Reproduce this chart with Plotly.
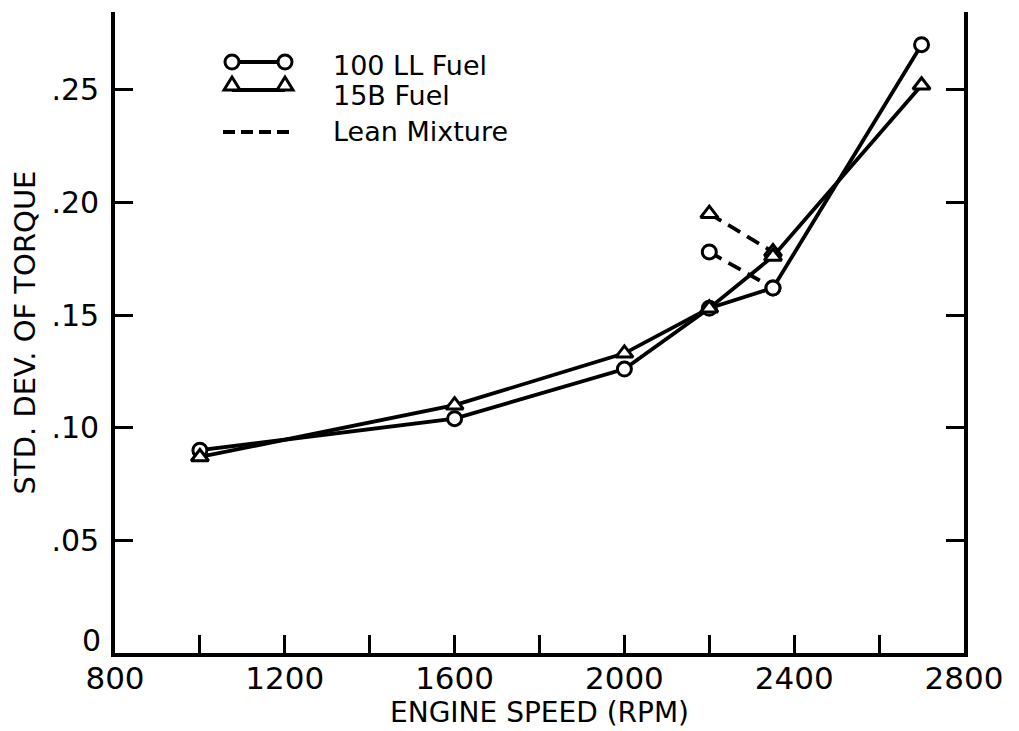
import plotly.graph_objects as go

# ---- data ----
speed = [1000, 1600, 2000, 2200, 2350, 2700]
ll100 = [0.090, 0.104, 0.126, 0.153, 0.162, 0.270]
b15 = [0.087, 0.110, 0.133, 0.153, 0.176, 0.252]
lean_speed = [2200, 2350]
lean_ll100 = [0.178, 0.162]
lean_b15 = [0.195, 0.178]

x_ticks = [800, 1000, 1200, 1400, 1600, 1800, 2000, 2200, 2400, 2600, 2800]
x_labels = ["800", "", "1200", "", "1600", "", "2000", "", "2400", "", "2800"]
y_ticks = [0.05, 0.10, 0.15, 0.20, 0.25]
y_labels = [".05", ".10", ".15", ".20", ".25"]
y_zero_label = "0"

legend_names = ["100 LL Fuel", "15B Fuel", "Lean Mixture"]

W, H = 1019, 731
L, R, T, B = 115, 55, 12, 78
PW, PH = W - L - R, H - T - B
FONT = "DejaVu Sans"
LW = 3.8

fig = go.Figure()

circle = dict(symbol="circle", size=14, color="white", line=dict(color="black", width=3))
tri = dict(symbol="triangle-up", size=15, color="white", line=dict(color="black", width=3))

fig.add_trace(go.Scatter(x=lean_speed, y=lean_ll100, mode="lines+markers",
                         line=dict(color="black", width=LW, dash="14px,8px"),
                         marker=circle, showlegend=False))
fig.add_trace(go.Scatter(x=lean_speed, y=lean_b15, mode="lines+markers",
                         line=dict(color="black", width=LW, dash="14px,8px"),
                         marker=tri, showlegend=False))
fig.add_trace(go.Scatter(x=speed, y=ll100, mode="lines+markers",
                         line=dict(color="black", width=LW),
                         marker=circle, showlegend=False))
fig.add_trace(go.Scatter(x=speed, y=b15, mode="lines+markers",
                         line=dict(color="black", width=LW),
                         marker=tri, showlegend=False))

# ---- custom legend (layout decoration, pixel positions) ----
def px(xp):
    return (xp - L) / PW

def py(yp):
    return (T + PH - yp) / PH

shapes = []
annotations = []
glyph_rows = [62, 90, 132]
text_rows = [65, 95, 131]
gx0, gx1 = 232, 285
for i, name in enumerate(legend_names):
    yy = glyph_rows[i]
    if i == 0:
        shapes.append(dict(type="line", xref="paper", yref="paper",
                           x0=px(gx0), x1=px(gx1), y0=py(yy), y1=py(yy),
                           line=dict(color="black", width=LW)))
        for gx in (gx0, gx1):
            shapes.append(dict(type="circle", xref="paper", yref="paper",
                               xsizemode="pixel", ysizemode="pixel",
                               xanchor=px(gx), yanchor=py(yy),
                               x0=-7, x1=7, y0=-7, y1=7,
                               fillcolor="white", line=dict(color="black", width=3)))
    elif i == 1:
        shapes.append(dict(type="line", xref="paper", yref="paper",
                           x0=px(gx0), x1=px(gx1), y0=py(yy), y1=py(yy),
                           line=dict(color="black", width=LW)))
        for gx in (gx0, gx1):
            shapes.append(dict(type="path", xref="paper", yref="paper",
                               xsizemode="pixel", ysizemode="pixel",
                               xanchor=px(gx), yanchor=py(yy),
                               path="M -8 0 L 8 0 L 0 13 Z",
                               fillcolor="white", line=dict(color="black", width=3)))
    else:
        shapes.append(dict(type="line", xref="paper", yref="paper",
                           x0=px(223), x1=px(289), y0=py(yy), y1=py(yy),
                           line=dict(color="black", width=LW, dash="12px,6px")))
    annotations.append(dict(text=name, xref="paper", yref="paper",
                            x=px(331), y=py(text_rows[i]), xanchor="left", yanchor="middle",
                            showarrow=False, font=dict(family=FONT, size=27, color="black")))

# zero label on the y axis (sits slightly above the corner, as in the original)
annotations.append(dict(text=y_zero_label, xref="paper", yref="y", x=0, y=0,
                        xanchor="right", yanchor="middle", xshift=-12, yshift=13,
                        showarrow=False, font=dict(family=FONT, size=30, color="black")))

fig.update_layout(
    width=W, height=H,
    margin=dict(l=L, r=R, t=T, b=B, autoexpand=False),
    paper_bgcolor="white", plot_bgcolor="white",
    shapes=shapes, annotations=annotations,
    showlegend=False,
    xaxis=dict(range=[800, 2800], tickvals=x_ticks, ticktext=x_labels,
               ticks="inside", ticklen=18, tickwidth=3, tickcolor="black",
               showline=True, linewidth=LW, linecolor="black", mirror=False,
               showgrid=False, zeroline=False, automargin=False,
               ticklabelstandoff=-5,
               tickfont=dict(family=FONT, size=31, color="black"),
               title=dict(text="ENGINE SPEED (RPM)", standoff=2,
                          font=dict(family=FONT, size=28, color="black"))),
    yaxis=dict(range=[0, 0.2845], tickvals=y_ticks, ticktext=y_labels,
               ticks="inside", ticklen=18, tickwidth=3, tickcolor="black",
               showline=True, linewidth=LW, linecolor="black", mirror="ticks",
               showgrid=False, zeroline=False, automargin=False,
               ticklabelstandoff=6,
               tickfont=dict(family=FONT, size=30, color="black"),
               title=dict(text="STD. DEV. OF TORQUE", standoff=8,
                          font=dict(family=FONT, size=29, color="black"))),
)

fig.write_html("out.html", config={"displayModeBar": False},
               post_script="document.body.style.margin='0px';")
